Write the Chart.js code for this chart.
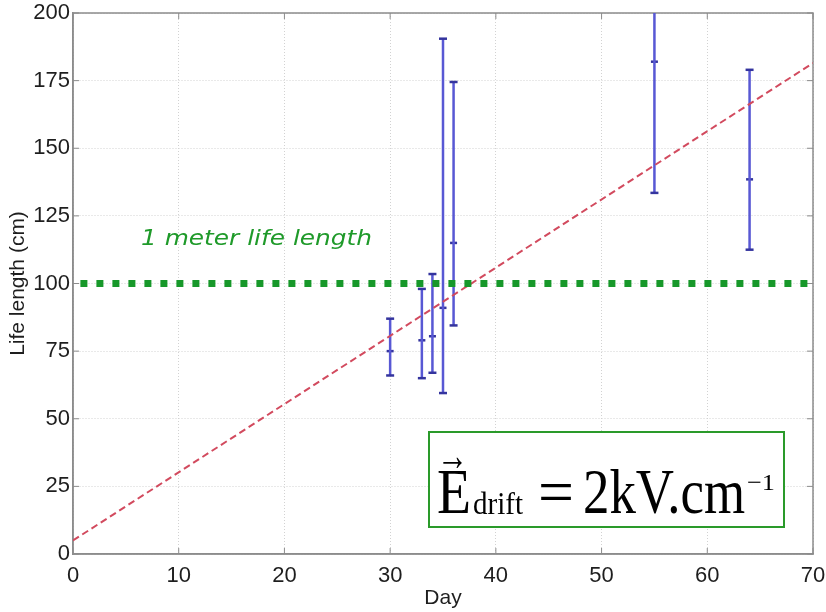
<!DOCTYPE html>
<html><head><meta charset="utf-8">
<script src="https://cdn.jsdelivr.net/npm/chart.js@4.4.1/dist/chart.umd.min.js"></script>
<style>
html,body{margin:0;padding:0;background:#fff;}
#wrap{position:relative;width:826px;height:612px;overflow:hidden;}
#c{position:absolute;left:0;top:0;}
#ov{position:absolute;left:0;top:0;pointer-events:none;}
</style></head><body>
<div id="wrap">
<canvas id="c" width="826" height="612"></canvas>
<svg id="ov" width="826" height="612" xmlns="http://www.w3.org/2000/svg">
  <text x="141" y="245" font-family="'DejaVu Sans', sans-serif" font-style="italic" font-size="21" fill="#1f9a2a" textLength="231" lengthAdjust="spacingAndGlyphs">1 meter life length</text>
  <rect x="429" y="432" width="355" height="95" fill="#fff" stroke="#2a9a2a" stroke-width="2"/>
  <g font-family="'Liberation Serif', 'Times New Roman', serif" fill="#000">
    <text x="437" y="470" font-size="44" textLength="31" lengthAdjust="spacingAndGlyphs">→</text>
    <text x="437" y="513" font-size="64" textLength="34" lengthAdjust="spacingAndGlyphs">E</text>
    <text x="473" y="514" font-size="32" textLength="50" lengthAdjust="spacingAndGlyphs">drift</text>
    <text x="538" y="513" font-size="64" textLength="36" lengthAdjust="spacingAndGlyphs">=</text>
    <text x="583" y="513" font-size="64" textLength="162" lengthAdjust="spacingAndGlyphs">2kV.cm</text>
    <text x="747" y="490" font-size="24" textLength="28" lengthAdjust="spacingAndGlyphs">−1</text>
  </g>
</svg>
</div>
<script>
// ---- data ----
const days       = [30, 33, 34, 35, 36, 55, 64];
const lifeCenter = [75, 79, 80.5, 91, 115, 182, 138.5];
const lifeLow    = [66, 65, 67, 59.5, 84.5, 133.5, 112.5];
const lifeHigh   = [87, 98, 103.5, 190.5, 174.5, 215, 179];
const fitDays    = [0, 70];
const fitLife    = [5, 181.5];
const lineDays   = [0.7, 69.6];
const lineLife   = [100, 100];
const xTicks     = [0, 10, 20, 30, 40, 50, 60, 70];
const yTicks     = [0, 25, 50, 75, 100, 125, 150, 175, 200];

// ---- build datasets ----
const barPts = [];
days.forEach((d, i) => {
  barPts.push({x: d, y: lifeLow[i]}, {x: d, y: lifeHigh[i]}, {x: d, y: null});
});
const centerPts = days.map((d, i) => ({x: d, y: lifeCenter[i]}));
const fitPts = fitDays.map((d, i) => ({x: d, y: fitLife[i]}));
const thrPts = lineDays.map((d, i) => ({x: d, y: lineLife[i]}));

const framePlugin = {
  id: 'frame',
  beforeDatasetsDraw(chart) {
    const {ctx, chartArea: a, scales: {x, y}} = chart;
    ctx.save();
    ctx.strokeStyle = '#8c8c8c';
    ctx.lineWidth = 1.5;
    ctx.strokeRect(a.left, a.top, a.right - a.left, a.bottom - a.top);
    ctx.lineWidth = 1;
    ctx.beginPath();
    x.ticks.forEach(t => {
      const p = x.getPixelForValue(t.value);
      ctx.moveTo(p, a.bottom); ctx.lineTo(p, a.bottom - 6);
      ctx.moveTo(p, a.top); ctx.lineTo(p, a.top + 6);
    });
    y.ticks.forEach(t => {
      const p = y.getPixelForValue(t.value);
      ctx.moveTo(a.left, p); ctx.lineTo(a.left + 6, p);
      ctx.moveTo(a.right, p); ctx.lineTo(a.right - 6, p);
    });
    ctx.stroke();
    ctx.restore();
  }
};

const tickFont = {family: "'Liberation Sans Narrow', 'Liberation Sans', sans-serif", size: 22};

new Chart(document.getElementById('c'), {
  type: 'scatter',
  data: {
    datasets: [
      {
        data: thrPts, showLine: true, order: 0,
        borderColor: '#17982a', borderWidth: 7, borderDash: [7, 9], borderCapStyle: 'butt',
        pointRadius: 0
      },
      {
        data: fitPts, showLine: true, order: 1,
        borderColor: '#d24a5e', borderWidth: 2, borderDash: [7, 4],
        pointRadius: 0
      },
      {
        data: barPts, showLine: true, spanGaps: false, order: 2,
        borderColor: '#5858d4', borderWidth: 2.5,
        pointStyle: 'line', pointRadius: 4, pointBorderColor: '#34349e', pointBorderWidth: 2.5,
        pointBackgroundColor: '#34349e'
      },
      {
        data: centerPts, showLine: false, order: 2,
        pointStyle: 'line', pointRadius: 3.5, pointBorderColor: '#34349e', pointBorderWidth: 2.5
      }
    ]
  },
  options: {
    responsive: false,
    animation: false,
    devicePixelRatio: 1,
    events: [],
    layout: {padding: {left: 0, right: 13, top: 13, bottom: 0}},
    plugins: {legend: {display: false}, tooltip: {enabled: false}},
    scales: {
      x: {
        type: 'linear', min: 0, max: 70,
        afterBuildTicks: s => { s.ticks = xTicks.map(v => ({value: v})); },
        afterFit: s => { s.height = 58; s.paddingLeft = 0; s.paddingRight = 0; },
        grid: {color: '#d2d2d2', lineWidth: 1, drawTicks: false},
        border: {color: '#8c8c8c', width: 1.5, dash: [1, 2]},
        ticks: {font: tickFont, color: '#1e1e1e', padding: 9, maxRotation: 0, autoSkip: false},
        title: {display: true, text: 'Day', color: '#1e1e1e',
          font: {family: "'Liberation Sans', sans-serif", size: 21}, padding: {top: 0, bottom: 1}}
      },
      y: {
        type: 'linear', min: 0, max: 200,
        afterBuildTicks: s => { s.ticks = yTicks.map(v => ({value: v})); },
        afterFit: s => { s.width = 73; s.paddingTop = 0; s.paddingBottom = 0; },
        grid: {color: '#d2d2d2', lineWidth: 1, drawTicks: false},
        border: {color: '#8c8c8c', width: 1.5, dash: [1, 2]},
        ticks: {font: tickFont, color: '#1e1e1e', padding: 3, autoSkip: false},
        title: {display: true, text: 'Life length (cm)', color: '#1e1e1e',
          font: {family: "'Liberation Sans', sans-serif", size: 21}, padding: {top: 6, bottom: 0}}
      }
    }
  },
  plugins: [framePlugin]
});
</script>
</body></html>
